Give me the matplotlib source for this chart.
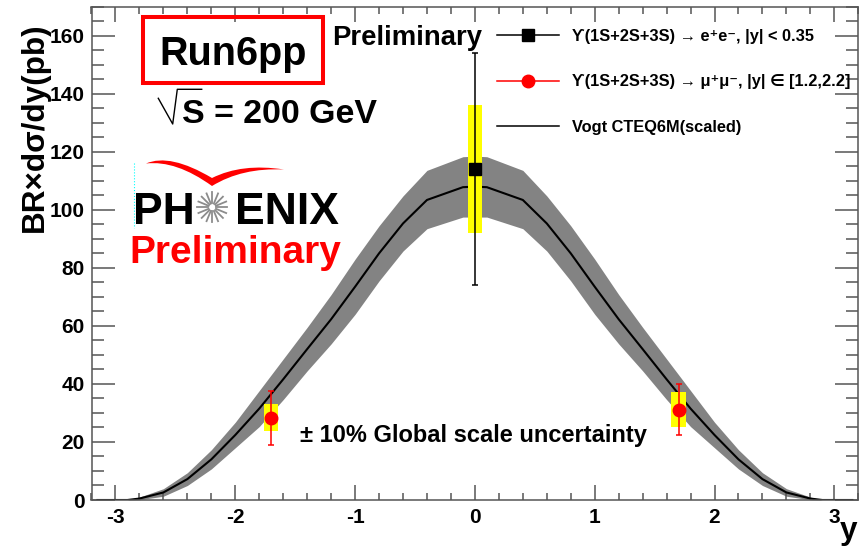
import matplotlib
matplotlib.use("Agg")
import numpy as np
import matplotlib.pyplot as plt
import matplotlib.transforms as mtransforms
from matplotlib.lines import Line2D
from matplotlib.patches import Rectangle, PathPatch
from matplotlib.path import Path
from matplotlib.ticker import MultipleLocator

plt.rcParams['font.family'] = ['Liberation Sans', 'DejaVu Sans']
plt.rcParams['font.weight'] = 'bold'
plt.rcParams['axes.unicode_minus'] = False

# ---- Vogt CTEQ6M (scaled) prediction with its uncertainty band ----
theory_y = [-3.15, -2.9, -2.8, -2.6, -2.4, -2.2, -2.0, -1.8, -1.6, -1.4, -1.2, -1.0,
            -0.8, -0.6, -0.4, -0.1, 0.0, 0.1, 0.4, 0.6, 0.8, 1.0, 1.2, 1.4, 1.6,
            1.8, 2.0, 2.2, 2.4, 2.6, 2.8, 2.9, 3.15]
theory_c = [0.0, 0.0, 0.5, 2.6, 7.2, 14.0, 22.4, 31.5, 41.6, 52.0, 62.3, 73.5,
            85.0, 95.3, 103.4, 107.8, 108.0, 107.8, 103.4, 95.3, 85.0, 73.5, 62.3, 52.0, 41.6,
            31.5, 22.4, 14.0, 7.2, 2.6, 0.5, 0.0, 0.0]
theory_lo = [0.0, 0.0, 0.1, 1.3, 5.0, 10.7, 18.0, 25.3, 34.6, 44.5, 53.8, 64.0,
             75.5, 85.8, 93.5, 97.5, 97.5, 97.5, 93.5, 85.8, 75.5, 64.0, 53.8, 44.5, 34.6,
             25.3, 18.0, 10.7, 5.0, 1.3, 0.1, 0.0, 0.0]
theory_hi = [0.0, 0.0, 1.0, 3.9, 9.4, 17.3, 26.8, 37.7, 48.6, 59.5, 70.8, 83.0,
             94.5, 104.8, 113.6, 118.3, 118.5, 118.3, 113.6, 104.8, 94.5, 83.0, 70.8, 59.5, 48.6,
             37.7, 26.8, 17.3, 9.4, 3.9, 1.0, 0.0, 0.0]

# ---- Upsilon -> e+e- at mid rapidity ----
ee_y = [0.0]
ee_val = [114.0]
ee_stat_lo = [40.0]
ee_stat_hi = [40.0]
ee_sys_lo = [22.0]
ee_sys_hi = [22.0]

# ---- Upsilon -> mu+mu- at forward / backward rapidity ----
mm_y = [-1.7, 1.7]
mm_val = [28.2, 31.0]
mm_stat_lo = [9.2, 8.6]
mm_stat_hi = [9.4, 8.9]
mm_sys_lo = [4.4, 5.9]
mm_sys_hi = [4.8, 6.3]

legend_labels = ["\u03d2(1S+2S+3S) \u2192 e\u207ae\u207b, |y| < 0.35",
                 "\u03d2(1S+2S+3S) \u2192 \u03bc\u207a\u03bc\u207b, |y| \u2208 [1.2,2.2]",
                 "Vogt CTEQ6M(scaled)"]

W, H = 860, 546
fig = plt.figure(figsize=(W / 100, H / 100), dpi=100)
fig.patch.set_facecolor('white')
# pixel coordinates measured from the top-left corner of the canvas
pxT = mtransforms.Affine2D().scale(1 / W, -1 / H).translate(0, 1) + fig.transFigure

ax = fig.add_axes([91.5 / W, 46 / H, (858.3 - 91.5) / W, (500 - 6.7) / H])
ax.set_xlim(-3.2, 3.2)
ax.set_ylim(0, 170)

# theory band and central curve
ax.fill_between(theory_y, theory_lo, theory_hi, color='#838383', lw=0, zorder=1)
ax.plot(theory_y, theory_c, color='black', lw=1.5, zorder=2)

# systematic boxes
box_w = 0.12
for xs, v, lo, hi in ((ee_y, ee_val, ee_sys_lo, ee_sys_hi),
                      (mm_y, mm_val, mm_sys_lo, mm_sys_hi)):
    bottoms = [a - b for a, b in zip(v, lo)]
    heights = [b + c for b, c in zip(lo, hi)]
    ax.bar(xs, heights, bottom=bottoms, width=box_w, color='#ffff00', lw=0, zorder=3)

# statistical error bars and markers
ax.errorbar(ee_y, ee_val, yerr=[ee_stat_lo, ee_stat_hi], fmt='none', ecolor='black',
            elinewidth=1.1, capsize=2, capthick=1.1, zorder=4)
ax.errorbar(mm_y, mm_val, yerr=[mm_stat_lo, mm_stat_hi], fmt='none', ecolor='red',
            elinewidth=1.1, capsize=2, capthick=1.1, zorder=4)
ax.plot(ee_y, ee_val, 's', color='black', ms=9, zorder=5)
ax.plot(mm_y, mm_val, 'o', color='red', ms=9, zorder=5)

# axes styling
axis_col = '#555555'
for sp in ax.spines.values():
    sp.set_color(axis_col)
    sp.set_linewidth(1.1)
ax.xaxis.set_major_locator(MultipleLocator(1))
ax.xaxis.set_minor_locator(MultipleLocator(0.2))
ax.yaxis.set_major_locator(MultipleLocator(20))
ax.yaxis.set_minor_locator(MultipleLocator(5))
ax.tick_params(which='both', direction='in', top=True, right=True, color=axis_col,
               width=1.1, labelsize=15, labelcolor='black')
ax.tick_params(axis='x', which='major', length=10.8, pad=6)
ax.tick_params(axis='x', which='minor', length=5.2)
ax.tick_params(axis='y', which='major', length=16.5, pad=5)
ax.tick_params(axis='y', which='minor', length=8.3)

# axis titles
fig.text(43, 232, "BR\u00d7d\u03c3/dy(pb)", transform=pxT, rotation=90,
         rotation_mode='anchor', ha='left', va='baseline', fontsize=22.7, fontweight='bold')
fig.text(849, 538.5, "y", transform=pxT, ha='center', va='baseline', fontsize=22.7,
         fontweight='bold')

# legend
handles = [Line2D([], [], color='black', lw=1.1, marker='s', ms=9),
           Line2D([], [], color='red', lw=1.1, marker='o', ms=9),
           Line2D([], [], color='black', lw=1.1)]
ax.legend(handles, legend_labels, loc='upper left', bbox_to_anchor=(497, 29),
          bbox_transform=pxT, frameon=False, prop={'size': 11.8, 'weight': 'bold'},
          handlelength=3.8, handletextpad=0.8, labelspacing=1.85, borderpad=0,
          borderaxespad=0, numpoints=1)

# annotations
fig.text(332, 45, "Preliminary", transform=pxT, fontsize=19.8, fontweight='bold',
         va='baseline', ha='left')
fig.text(300, 441.7, "\u00b1 10% Global scale uncertainty", transform=pxT, fontsize=17,
         fontweight='bold', va='baseline', ha='left')

# Run6pp box
fig.add_artist(Rectangle((143, 17), 180, 66, transform=pxT, fill=False, edgecolor='#ff0000',
                         lw=2.9))
fig.text(233, 65, "Run6pp", transform=pxT, fontsize=28.5, fontweight='bold', va='baseline',
         ha='center')

# sqrt(S) = 200 GeV
fig.add_artist(Line2D([158.3, 172.7, 177.3, 201.7], [98.3, 124, 89.3, 89.3], transform=pxT,
                      color='black', lw=1.0))
fig.text(181.7, 123.3, "S = 200 GeV", transform=pxT, fontsize=24.4, fontweight='bold',
         va='baseline', ha='left')

# PHENIX logo
fig.add_artist(Line2D([133.5, 133.5], [163, 228], transform=pxT, color='#00ffff', lw=0.8,
                      ls=':'))
fig.text(133, 224, "PH", transform=pxT, fontsize=32, fontweight='bold', va='baseline', ha='left')
fig.text(235, 224, "ENIX", transform=pxT, fontsize=32, fontweight='bold', va='baseline',
         ha='left')
cx, cy = 212.3, 207.3
for ang in np.deg2rad(np.arange(0, 360, 22.5)):
    fig.add_artist(Line2D([cx + 4 * np.cos(ang), cx + 15 * np.cos(ang)],
                          [cy + 4 * np.sin(ang), cy + 15 * np.sin(ang)],
                          transform=pxT, color='#8c8c8c', lw=1.3))
swoosh = Path([(146, 163.5), (170, 153), (212, 178), (242, 163), (284, 169.5),
               (242, 167.5), (212, 186), (176, 160), (146, 163.5), (146, 163.5)],
              [Path.MOVETO, Path.CURVE3, Path.CURVE3, Path.CURVE3, Path.CURVE3,
               Path.CURVE3, Path.CURVE3, Path.CURVE3, Path.CURVE3, Path.CLOSEPOLY])
fig.add_artist(PathPatch(swoosh, transform=pxT, facecolor='#ff0000', edgecolor='none'))
fig.text(129, 263, "Preliminary", transform=pxT, fontsize=28, fontweight='bold',
         color='#ff0000', va='baseline', ha='left')

fig.savefig("out.png", dpi=100)
